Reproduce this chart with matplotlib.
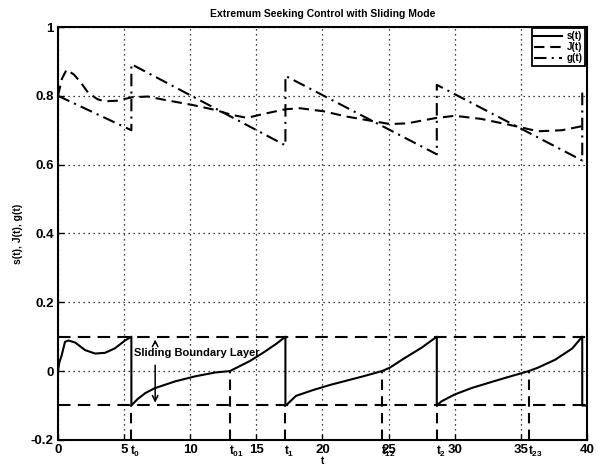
import matplotlib
matplotlib.use("Agg")
import matplotlib.pyplot as plt
import matplotlib.transforms as mtransforms
from matplotlib.ticker import FixedLocator

plt.rcParams['font.family'] = ['Liberation Sans', 'DejaVu Sans']
plt.rcParams['mathtext.fontset'] = 'custom'
plt.rcParams['mathtext.rm'] = 'Liberation Sans:bold'
plt.rcParams['mathtext.it'] = 'Liberation Sans:bold'

# ---- data ----
s_t = [0, 0.1, 0.28, 0.53, 0.78, 1.3, 2.05, 2.8, 3.55, 4.3, 5.07, 5.55, 5.55,
       6.0, 6.6, 7.3, 8.85, 10.4, 11.9, 13.0, 14.5, 15.5, 16.5, 17.2, 17.2,
       17.4, 18.0, 19.3, 20.6, 21.8, 23.1, 24.5, 25.1, 26.1, 27.5, 28.65, 28.65,
       29.0, 30.0, 31.3, 32.5, 33.8, 35.6, 36.3, 37.6, 38.9, 39.65, 39.65, 40]
s_v = [0, 0.025, 0.046, 0.085, 0.089, 0.083, 0.061, 0.051, 0.053, 0.066, 0.089, 0.1, -0.1,
       -0.082, -0.064, -0.05, -0.03, -0.015, -0.004, 0.0, 0.029, 0.053, 0.079, 0.1, -0.1,
       -0.094, -0.072, -0.055, -0.04, -0.028, -0.015, 0.0, 0.01, 0.035, 0.068, 0.1, -0.1,
       -0.088, -0.068, -0.049, -0.035, -0.02, 0.0, 0.01, 0.033, 0.066, 0.1, -0.1, -0.1]

J_t = [0, 0.3, 0.65, 1.2, 1.7, 2.3, 3.0, 3.55, 4.5, 5.6, 6.8, 8.1, 10.1, 11.9, 13.1,
       14.3, 15.5, 17.2, 18.3, 20.1, 21.8, 23.6, 25.1, 26.4, 28.5, 30.0, 32.0, 34.6,
       36.3, 38.1, 39.65, 40]
J_v = [0.80, 0.85, 0.876, 0.862, 0.84, 0.808, 0.79, 0.784, 0.786, 0.796, 0.798, 0.788,
       0.774, 0.759, 0.745, 0.736, 0.747, 0.761, 0.764, 0.755, 0.740, 0.728, 0.718, 0.72,
       0.735, 0.742, 0.733, 0.712, 0.697, 0.70, 0.712, 0.715]

g_t = [0, 5.55, 5.55, 17.2, 17.2, 28.65, 28.65, 39.65, 39.65, 40]
g_v = [0.80, 0.70, 0.892, 0.656, 0.858, 0.63, 0.832, 0.612, 0.807, 0.80]

boundary = [0.1, -0.1]
mark_t = [5.55, 13.0, 17.2, 24.5, 28.65, 35.6]
mark_top = [-0.1, 0.0, -0.1, 0.0, -0.1, 0.0]
mark_labels = ['$t_0$', '$t_{01}$', '$t_1$', '$t_{12}$', '$t_2$', '$t_{23}$']
x_ticks = [0, 5, 10, 15, 20, 25, 30, 35, 40]
y_ticks = [-0.2, 0, 0.2, 0.4, 0.6, 0.8, 1]
y_ticklabels = ['-0.2', '0', '0.2', '0.4', '0.6', '0.8', '1']

fig = plt.figure(figsize=(6.01, 4.66), dpi=100)
ax = fig.add_axes([0.0965, 0.056, 0.880, 0.886])

lw = 1.5
ax.plot(s_t, s_v, color='k', lw=lw, label='s(t)')
ax.plot(J_t, J_v, color='k', lw=lw, dashes=(5, 2.8), label='J(t)')
ax.plot(g_t, g_v, color='k', lw=lw, dashes=(6, 2.5, 1, 2.5), label='g(t)')

for b in boundary:
    ax.plot([0, 40], [b, b], color='k', lw=lw, dashes=(6, 3.5))
for mt, top in zip(mark_t, mark_top):
    ax.plot([mt, mt], [-0.2, top], color='k', lw=lw, dashes=(5, 3))

ax.set_xlim(0, 40)
ax.set_ylim(-0.2, 1)
ax.xaxis.set_major_locator(FixedLocator(x_ticks))
ax.set_yticks(y_ticks)
ax.set_yticklabels(y_ticklabels)
ax.tick_params(which='major', direction='in', length=4, width=1, labelsize=9.5, pad=3)
for lab in ax.get_xticklabels() + ax.get_yticklabels():
    lab.set_fontweight('bold')

# event labels under the axis, just right of each event time
base = mtransforms.blended_transform_factory(ax.transData, ax.transAxes)
lab_tr = mtransforms.offset_copy(base, fig=fig, x=-1, y=-4, units='dots')
for mt, lab in zip(mark_t, mark_labels):
    ax.text(mt, 0, lab, transform=lab_tr, ha='left', va='top', fontsize=8.5)

ax.grid(True, which='major', color='k', linestyle=(0, (1, 3)), lw=0.9)
for sp in ax.spines.values():
    sp.set_linewidth(1.5)

ax.set_title('Extremum Seeking Control with Sliding Mode', fontsize=7.5,
             fontweight='bold', pad=7)
ax.set_xlabel('t', fontsize=7, fontweight='bold', labelpad=0)
ax.set_ylabel('s(t), J(t), g(t)', fontsize=7.5, fontweight='bold', labelpad=6)

ax.text(5.75, 0.053, 'Sliding Boundary Layer', fontsize=8, fontweight='bold',
        va='center', ha='left')
ax.annotate('', xy=(7.35, 0.1), xytext=(7.35, 0.072),
            arrowprops=dict(arrowstyle='->', color='k', lw=1.1))
ax.annotate('', xy=(7.35, -0.1), xytext=(7.35, 0.025),
            arrowprops=dict(arrowstyle='->', color='k', lw=1.1))

leg = ax.legend(loc='upper right', fontsize=7, handlelength=2.8, borderaxespad=0.15,
                fancybox=False, framealpha=1, edgecolor='k', labelspacing=0.1,
                borderpad=0.3, handletextpad=0.5)
leg.get_frame().set_linewidth(1.3)
for t in leg.get_texts():
    t.set_fontweight('bold')

fig.savefig('out.png', dpi=100)
